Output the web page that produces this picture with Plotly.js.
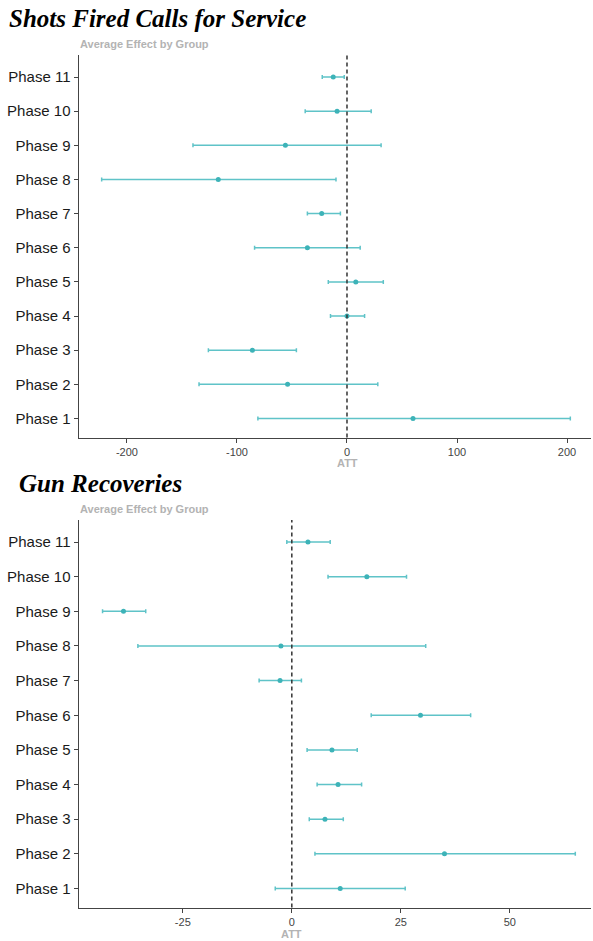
<!DOCTYPE html>
<html>
<head>
<meta charset="utf-8">
<script src="https://cdn.plot.ly/plotly-3.0.1.min.js"></script>
<style>html,body{margin:0;padding:0;background:#fff}#chart{width:593px;height:941px}</style>
</head>
<body>
<div id="chart"></div>
<script>
const phases = ["Phase 1","Phase 2","Phase 3","Phase 4","Phase 5","Phase 6","Phase 7","Phase 8","Phase 9","Phase 10","Phase 11"];

// Shots Fired Calls for Service
const shotsATT   = [60, -54, -86, 0, 8, -36, -23, -117, -56, -9, -12.5];
const shotsLower = [-81, -134.5, -126, -15, -17, -84, -36, -223, -140, -38, -22.5];
const shotsUpper = [203, 28, -46, 16, 33, 12, -6, -10, 31, 22, -2.5];
const shotsTicks = [-200, -100, 0, 100, 200];
const shotsTickText = ["-200", "-100", "0", "100", "200"];

// Gun Recoveries
const gunATT   = [11.1, 35, 7.6, 10.6, 9.2, 29.5, -2.7, -2.5, -38.6, 17.2, 3.7];
const gunLower = [-3.8, 5.3, 4, 5.8, 3.5, 18.2, -7.5, -35.3, -43.4, 8.3, -1.15];
const gunUpper = [26, 65, 11.8, 16, 15, 41, 2.2, 30.7, -33.5, 26.3, 8.8];
const gunTicks = [-25, 0, 25, 50];
const gunTickText = ["-25", "0", "25", "50"];

const yIdx = phases.map((p, i) => i + 1);
const H = 941, W = 593, L = 79, R = 2;
const PW = W - L - R;
const py = v => 1 - v / H;
const px = v => (v - L) / PW;

const teal = "#5fc3c8";
const dot = "#3db3b8";

function trace(att, lo, hi, xa, ya) {
  return {
    type: "scatter", mode: "markers",
    x: att, y: yIdx, xaxis: xa, yaxis: ya,
    marker: {color: dot, size: 5},
    error_x: {type: "data", symmetric: false,
      array: att.map((v, i) => hi[i] - v),
      arrayminus: att.map((v, i) => v - lo[i]),
      color: teal, thickness: 1.5, width: 2},
    hoverinfo: "x+y", showlegend: false
  };
}

const axisCommon = {
  showgrid: false, zeroline: false, showline: true, linecolor: "#444", linewidth: 1.5,
  ticks: "outside", ticklen: 4, tickcolor: "#444", tickwidth: 1
};

const layout = {
  width: W, height: H,
  margin: {l: L, r: R, t: 0, b: 0},
  paper_bgcolor: "#fff", plot_bgcolor: "#fff",
  font: {family: "Liberation Sans, Arial, sans-serif"},
  xaxis: Object.assign({}, axisCommon, {
    range: [-243.6, 221.8], anchor: "y", domain: [0, 1],
    tickvals: shotsTicks, ticktext: shotsTickText,
    tickfont: {size: 11, color: "#444"}
  }),
  yaxis: Object.assign({}, axisCommon, {
    range: [0.443, 11.645], anchor: "x", domain: [py(437.5), py(55)],
    tickvals: yIdx, ticktext: phases,
    tickfont: {size: 15, color: "#1a1a1a"}
  }),
  xaxis2: Object.assign({}, axisCommon, {
    range: [-48.8, 68.6], anchor: "y2", domain: [0, 1],
    tickvals: gunTicks, ticktext: gunTickText,
    tickfont: {size: 11, color: "#444"}
  }),
  yaxis2: Object.assign({}, axisCommon, {
    range: [0.452, 11.635], anchor: "x2", domain: [py(907.5), py(520)],
    tickvals: yIdx, ticktext: phases,
    tickfont: {size: 15, color: "#1a1a1a"}
  }),
  shapes: [
    {type: "line", xref: "x", yref: "y domain", x0: 0, x1: 0, y0: 0, y1: 1,
     line: {color: "#333", width: 1.5, dash: "4px,3px"}},
    {type: "line", xref: "x2", yref: "y2 domain", x0: 0, x1: 0, y0: 0, y1: 1,
     line: {color: "#333", width: 1.5, dash: "4px,3px"}}
  ],
  annotations: [
    {text: "<b><i>Shots Fired Calls for Service</i></b>", xref: "paper", yref: "paper",
     x: px(7), y: py(18), xanchor: "left", yanchor: "middle", showarrow: false,
     font: {family: "Liberation Serif, Times New Roman, serif", size: 25, color: "#000"}},
    {text: "<b>Average Effect by Group</b>", xref: "paper", yref: "paper",
     x: px(78), y: py(44), xanchor: "left", yanchor: "middle", showarrow: false,
     font: {size: 11, color: "#b3b3b3"}},
    {text: "<b>ATT</b>", xref: "paper", yref: "paper",
     x: px(347), y: py(463), xanchor: "center", yanchor: "middle", showarrow: false,
     font: {size: 11, color: "#b3b3b3"}},
    {text: "<b><i>Gun Recoveries</i></b>", xref: "paper", yref: "paper",
     x: px(17), y: py(483), xanchor: "left", yanchor: "middle", showarrow: false,
     font: {family: "Liberation Serif, Times New Roman, serif", size: 25, color: "#000"}},
    {text: "<b>Average Effect by Group</b>", xref: "paper", yref: "paper",
     x: px(78), y: py(509), xanchor: "left", yanchor: "middle", showarrow: false,
     font: {size: 11, color: "#b3b3b3"}},
    {text: "<b>ATT</b>", xref: "paper", yref: "paper",
     x: px(291), y: py(934), xanchor: "center", yanchor: "middle", showarrow: false,
     font: {size: 11, color: "#b3b3b3"}}
  ]
};

Plotly.newPlot("chart", [
  trace(shotsATT, shotsLower, shotsUpper, "x", "y"),
  trace(gunATT, gunLower, gunUpper, "x2", "y2")
], layout, {displayModeBar: false, staticPlot: true});
</script>
</body>
</html>
